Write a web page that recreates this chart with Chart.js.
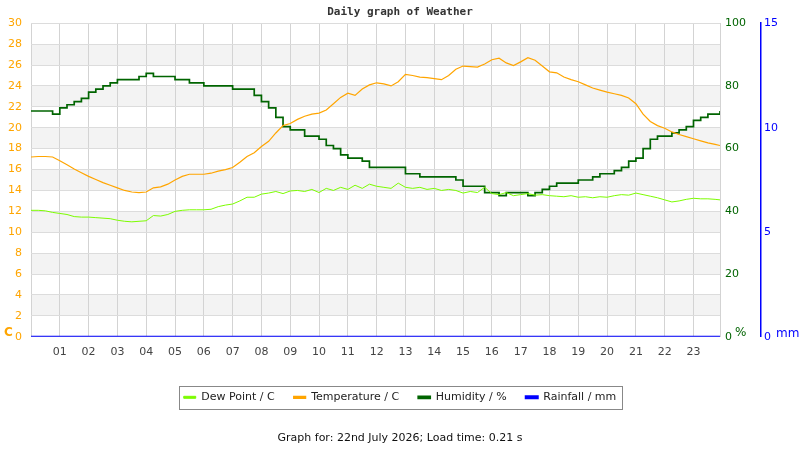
<!DOCTYPE html>
<html>
<head>
<meta charset="utf-8">
<title>Daily graph of Weather</title>
<script src="https://cdn.jsdelivr.net/npm/chart.js@4/dist/chart.umd.min.js"></script>
<style>
  html, body { margin: 0; padding: 0; background: #fff; }
  #wrap { width: 800px; height: 450px; }
</style>
</head>
<body>
<div id="wrap"><canvas id="weatherChart"></canvas></div>
<script>
// readings every 15 minutes, last one just before midnight
const hours = [];
for (let q = 0; q < 96; q++) hours.push(q / 4);
hours.push(23.92);

const temperature = [
    17.2, 17.25, 17.25, 17.2, 16.85, 16.45, 16.05, 15.7,
    15.35, 15.05, 14.75, 14.5, 14.25, 14.0, 13.85, 13.8,
    13.85, 14.25, 14.35, 14.6, 15.0, 15.35, 15.55, 15.55,
    15.55, 15.65, 15.85, 16.0, 16.2, 16.7, 17.25, 17.6,
    18.2, 18.7, 19.5, 20.2, 20.4, 20.8, 21.1, 21.3,
    21.4, 21.7, 22.3, 22.9, 23.3, 23.1, 23.7, 24.1,
    24.3, 24.2, 24.0, 24.4, 25.1, 25.0, 24.85, 24.8,
    24.7, 24.6, 25.0, 25.6, 25.9, 25.85, 25.8, 26.1,
    26.5, 26.65, 26.2, 25.95, 26.3, 26.7, 26.45, 25.9,
    25.35, 25.25, 24.85, 24.6, 24.4, 24.1, 23.8, 23.6,
    23.4, 23.25, 23.1, 22.85, 22.3, 21.3, 20.6, 20.2,
    19.95, 19.6, 19.35, 19.15, 18.95, 18.75, 18.55, 18.4,
    18.3
];

const dewPoint = [
    12.1, 12.1, 12.05, 11.9, 11.8, 11.7, 11.5, 11.45,
    11.45, 11.4, 11.35, 11.3, 11.15, 11.05, 11.0, 11.05,
    11.1, 11.6, 11.55, 11.7, 12.0, 12.1, 12.15, 12.15,
    12.15, 12.2, 12.45, 12.6, 12.7, 13.0, 13.35, 13.35,
    13.65, 13.75, 13.9, 13.7, 13.95, 14.0, 13.9, 14.1,
    13.8, 14.2, 14.0, 14.3, 14.1, 14.5, 14.2, 14.6,
    14.4, 14.3, 14.2, 14.7, 14.3, 14.2, 14.3, 14.1,
    14.2, 14.0, 14.1, 14.0, 13.75, 13.9, 13.8, 14.3,
    13.7, 13.6, 13.8, 13.5, 13.6, 13.7, 13.55, 13.6,
    13.5, 13.45, 13.4, 13.5, 13.35, 13.4, 13.3, 13.4,
    13.35, 13.5, 13.6, 13.55, 13.75, 13.6, 13.45, 13.3,
    13.1, 12.9, 13.0, 13.15, 13.25, 13.2, 13.2, 13.15,
    13.1
];

const humidity = [
    72, 72, 72, 71, 73, 74, 75, 76,
    78, 79, 80, 81, 82, 82, 82, 83,
    84, 83, 83, 83, 82, 82, 81, 81,
    80, 80, 80, 80, 79, 79, 79, 77,
    75, 73, 70, 67, 66, 66, 64, 64,
    63, 61, 60, 58, 57, 57, 56, 54,
    54, 54, 54, 54, 52, 52, 51, 51,
    51, 51, 51, 50, 48, 48, 48, 46,
    46, 45, 46, 46, 46, 45, 46, 47,
    48, 49, 49, 49, 50, 50, 51, 52,
    52, 53, 54, 56, 57, 60, 63, 64,
    64, 65, 66, 67, 69, 70, 71, 71,
    72
];

const rainfall = [
    0, 0, 0, 0, 0, 0, 0, 0, 0, 0, 0, 0, 0, 0, 0, 0, 0, 0, 0, 0, 0, 0, 0, 0,
    0, 0, 0, 0, 0, 0, 0, 0, 0, 0, 0, 0, 0, 0, 0, 0, 0, 0, 0, 0, 0, 0, 0, 0,
    0, 0, 0, 0, 0, 0, 0, 0, 0, 0, 0, 0, 0, 0, 0, 0, 0, 0, 0, 0, 0, 0, 0, 0,
    0, 0, 0, 0, 0, 0, 0, 0, 0, 0, 0, 0, 0, 0, 0, 0, 0, 0, 0, 0, 0, 0, 0, 0,
    0
];

const seriesNames = ['Dew Point / C', 'Temperature / C', 'Humidity / %', 'Rainfall / mm'];
const titleText = 'Daily graph of Weather';
const footerText = 'Graph for: 22nd July 2026; Load time: 0.21 s';

function points(values) {
    return hours.map((h, i) => ({ x: h, y: values[i] }));
}

// grey bands every other 2 degree step
const bands = {
    id: 'bands',
    beforeDraw(chart) {
        const { ctx, chartArea: a, scales: { y } } = chart;
        ctx.save();
        ctx.fillStyle = '#f3f3f3';
        for (let v = 2; v < 30; v += 4) {
            const top = y.getPixelForValue(v + 2);
            const bottom = y.getPixelForValue(v);
            ctx.fillRect(a.left, top, a.right - a.left, bottom - top);
        }
        ctx.restore();
    }
};

// unit labels next to the axes and the frame round the legend
const extras = {
    id: 'extras',
    afterDraw(chart) {
        const { ctx, chartArea: a, scales } = chart;
        ctx.save();
        ctx.textBaseline = 'middle';
        ctx.textAlign = 'left';
        ctx.font = 'bold 12px "DejaVu Sans"';
        ctx.fillStyle = '#ffa500';
        ctx.fillText('C', 4, a.bottom - 4);
        ctx.font = '12px "DejaVu Sans"';
        ctx.fillStyle = '#006400';
        ctx.fillText('%', scales.yHum.left + 15, a.bottom - 4);
        ctx.fillStyle = '#0000ff';
        ctx.fillText('mm', scales.yRain.left + 15, a.bottom - 3);

        const boxes = chart.legend.legendHitBoxes;
        if (boxes && boxes.length) {
            const l = Math.min(...boxes.map(b => b.left));
            const r = Math.max(...boxes.map(b => b.left + b.width));
            const t = boxes[0].top;
            const h = boxes[0].height;
            ctx.strokeStyle = '#888';
            ctx.lineWidth = 1;
            ctx.strokeRect(Math.round(l - 5) + 0.5, Math.round(t - 6) + 0.5, Math.round(r - l + 10), Math.round(h + 12));
        }
        ctx.restore();
    }
};

Chart.defaults.font.family = '"DejaVu Sans"';
Chart.defaults.font.size = 11;

document.addEventListener('DOMContentLoaded', function() {
    const ctx = document.getElementById('weatherChart');

    new Chart(ctx, {
        type: 'line',
        data: {
            datasets: [{
                label: seriesNames[0],
                data: points(dewPoint),
                yAxisID: 'y',
                borderColor: '#7cfc00',
                backgroundColor: '#7cfc00',
                borderWidth: 1
            }, {
                label: seriesNames[1],
                data: points(temperature),
                yAxisID: 'y',
                borderColor: '#ffa500',
                backgroundColor: '#ffa500',
                borderWidth: 1.2
            }, {
                label: seriesNames[2],
                data: points(humidity),
                yAxisID: 'yHum',
                stepped: true,
                borderColor: '#006400',
                backgroundColor: '#006400',
                borderWidth: 1.7
            }, {
                label: seriesNames[3],
                data: points(rainfall),
                yAxisID: 'yRain',
                borderColor: '#0000ff',
                backgroundColor: '#0000ff',
                borderWidth: 2
            }]
        },
        options: {
            responsive: true,
            maintainAspectRatio: false,
            animation: false,
            elements: { point: { radius: 0 }, line: { tension: 0 } },
            layout: { padding: 0 },
            scales: {
                x: {
                    type: 'linear',
                    min: 0,
                    max: 23.92,
                    grid: { color: '#d3d3d3', drawTicks: false },
                    border: { display: false },
                    ticks: {
                        stepSize: 1,
                        includeBounds: false,
                        autoSkip: false,
                        maxRotation: 0,
                        padding: 9,
                        color: '#444',
                        callback: v => (Number.isInteger(v) && v >= 1 && v <= 23) ? String(v).padStart(2, '0') : ''
                    },
                    afterFit: s => { s.height = 36; }
                },
                y: {
                    position: 'left',
                    min: 0,
                    max: 30,
                    grid: { color: '#dcdcdc', drawTicks: false },
                    border: { display: false },
                    ticks: { stepSize: 2, color: '#ffa500', padding: 9 },
                    afterFit: s => { s.width = 31; }
                },
                yHum: {
                    position: 'right',
                    weight: 0,
                    min: 0,
                    max: 100,
                    grid: { drawOnChartArea: false, drawTicks: false },
                    border: { display: true, color: '#d3d3d3' },
                    ticks: { stepSize: 20, color: '#006400', padding: 5 },
                    afterFit: s => { s.width = 41; }
                },
                yRain: {
                    position: 'right',
                    weight: 1,
                    min: 0,
                    max: 15,
                    grid: { drawOnChartArea: false, drawTicks: false },
                    border: { display: true, color: '#0000ff', width: 1.5 },
                    ticks: { stepSize: 5, color: '#0000ff', padding: 3 },
                    afterFit: s => { s.width = 39; }
                }
            },
            plugins: {
                title: {
                    display: true,
                    text: titleText,
                    color: '#333',
                    font: { family: '"DejaVu Sans Mono"', weight: 'bold', size: 11 },
                    padding: { top: 6, bottom: 4 }
                },
                subtitle: {
                    display: true,
                    position: 'bottom',
                    text: footerText,
                    color: '#111',
                    font: { size: 11 },
                    padding: { top: 19, bottom: 5 }
                },
                legend: {
                    position: 'bottom',
                    labels: {
                        boxWidth: 12,
                        boxHeight: 2,
                        padding: 19,
                        color: '#222'
                    }
                },
                tooltip: { enabled: false }
            }
        },
        plugins: [bands, extras]
    });
});
</script>
</body>
</html>
